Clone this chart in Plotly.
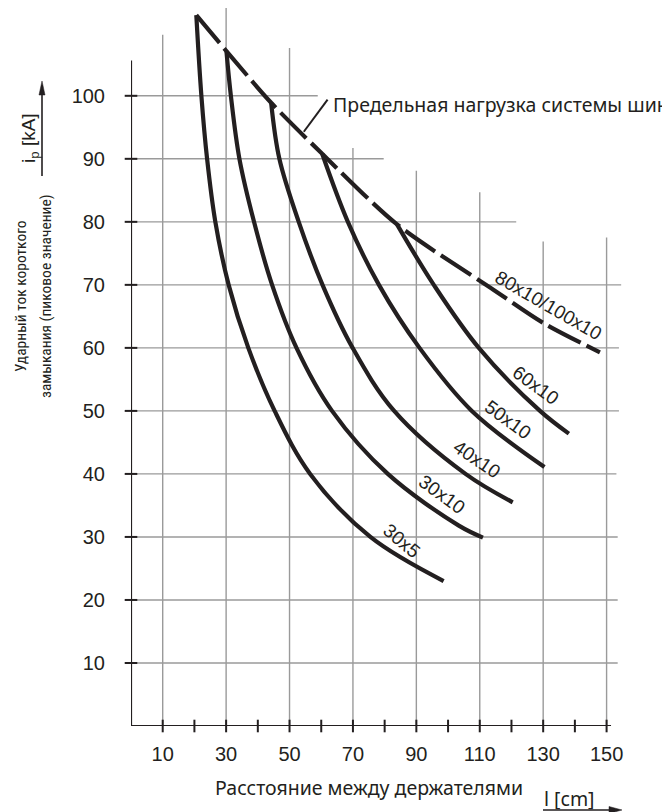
import plotly.graph_objects as go

# ---------------- data ----------------
l_30x5 = [20.6, 22.2, 24.0, 26.6, 30.8, 37.0, 45.3, 56.5, 75.5, 98.6]
i_30x5 = [112.8, 100, 90, 80, 70, 60, 50, 40, 30, 23.0]

l_30x10 = [30.1, 31.5, 34.2, 38.8, 44.5, 52.2, 63.4, 81.0, 103.4, 111.0]
i_30x10 = [107.1, 100, 90, 80, 70, 60, 50, 40, 31.8, 29.9]

l_40x10 = [44.2, 46.8, 52.9, 60.4, 69.9, 83.0, 105.5, 120.4]
i_40x10 = [98.9, 90, 80, 70, 60, 50, 40, 35.5]

l_50x10 = [60.3, 68.4, 78.2, 91.0, 107.5, 130.4]
i_50x10 = [90.8, 80, 70, 60, 50, 41.1]

l_60x10 = [83.9, 95.5, 109.7, 129.0, 138.1]
i_60x10 = [79.6, 70, 60, 50, 46.4]

l_limit = [20.6, 30.1, 44.2, 60.3, 83.9, 114.4, 130.2, 147.9]
i_limit = [112.8, 107.1, 98.9, 90.8, 79.6, 69.2, 63.9, 59.3]

x_ticks = [10, 30, 50, 70, 90, 110, 130, 150]
x_minor = [20, 40, 60, 80, 100, 120, 140]
y_ticks = [10, 20, 30, 40, 50, 60, 70, 80, 90, 100]

curve_labels = ["30x5", "30x10", "40x10", "50x10", "60x10", "80x10/100x10"]
label_l = [85.2, 98.1, 109.2, 118.8, 127.8, 131.8]
label_i = [29.4, 36.7, 42.3, 48.6, 54.1, 66.8]
label_ang = [40, 36, 34, 36, 36, 30]

limit_text = "Предельная нагрузка системы шин"
x_title = "Расстояние между держателями"
x_unit = "l [cm]"
y_title_1 = "Ударный ток короткого"
y_title_2 = "замыкания (пиковое значение)"
y_unit = "i<sub>p</sub> [kA]"

# ---------------- styling ----------------
INK = "#231f20"
GRID = "#9a9a9a"
OFF = 8                      # page body margin in the browser
W, H = 670 - OFF, 812 - OFF
AX_X, AX_Y = 131, 726        # reference pixel position of the origin
ML = AX_X - OFF
PH = AX_Y - OFF
MB = H - PH
PW = W - ML
XR = [0, 170]
sx = PW / (XR[1] - XR[0])
sy = 6.302
YR = [0, PH / sy]


def pxp(px):   # reference pixel x -> paper x
    return (px - AX_X) / PW


def pyp(py):   # reference pixel y -> paper y
    return (AX_Y - py) / PH


def tri(p1, p2, p3):
    pts = [p1, p2, p3]
    d = "M " + " L ".join(f"{pxp(a):.5f},{pyp(b):.5f}" for a, b in pts) + " Z"
    return dict(type="path", xref="paper", yref="paper", path=d,
                fillcolor=INK, line=dict(color=INK, width=0.5))


def pline(x0, y0, x1, y1, w=1.6):
    return dict(type="line", xref="paper", yref="paper", x0=pxp(x0), y0=pyp(y0),
                x1=pxp(x1), y1=pyp(y1), line=dict(color=INK, width=w))


ARIAL = "Liberation Sans, Arial, sans-serif"
HUMAN = "Noto Sans, Open Sans, sans-serif"
NARROW = "Liberation Sans Narrow, Arial Narrow, Roboto Condensed, Liberation Sans, sans-serif"

fig = go.Figure()

# grid (staircase extents as in the reference)
v_top = [109.7, 115.2, 107.6, 91.7, 88.1, 84.7, 76.9, 77.5]
h_end = [153.5, 153.5, 153.5, 153.1, 153.9, 153.9, 154.6, 121.5, 79.7, 58.9]
shapes = []
for xv, top in zip(x_ticks, v_top):
    shapes.append(dict(type="line", xref="x", yref="y", x0=xv, x1=xv, y0=0, y1=top,
                       line=dict(color=GRID, width=1.4), layer="below"))
for yv, end in zip(y_ticks, h_end):
    shapes.append(dict(type="line", xref="x", yref="y", x0=0, x1=end, y0=yv, y1=yv,
                       line=dict(color=GRID, width=1.4), layer="below"))
# axes lines
shapes.append(dict(type="line", xref="x", yref="y", x0=0, x1=151.4, y0=0, y1=0,
                   line=dict(color=INK, width=2.2)))
shapes.append(dict(type="line", xref="x", yref="y", x0=0, x1=0, y0=0, y1=105.6,
                   line=dict(color=INK, width=2.2)))
# leader line for the limit label
shapes.append(dict(type="line", xref="x", yref="y", x0=54.5, x1=62.0, y0=94.3, y1=99.4,
                   line=dict(color=INK, width=2)))
# unit arrows
shapes.append(pline(42, 176, 42, 92))
shapes.append(tri((42, 81), (39, 95), (45, 95)))
shapes.append(pline(543, 810, 611, 810))
shapes.append(tri((622, 810), (609, 806.5), (609, 813.5)))

# curves
for lx, iy in [(l_30x5, i_30x5), (l_30x10, i_30x10), (l_40x10, i_40x10),
               (l_50x10, i_50x10), (l_60x10, i_60x10)]:
    fig.add_trace(go.Scatter(x=lx, y=iy, mode="lines", cliponaxis=False,
                             line=dict(color=INK, width=4.2, shape="spline", smoothing=1.0),
                             hoverinfo="skip", showlegend=False))
fig.add_trace(go.Scatter(x=l_limit, y=i_limit, mode="lines", cliponaxis=False,
                         line=dict(color=INK, width=4.2, shape="spline", smoothing=0.8,
                                   dash="36px,7px"),
                         hoverinfo="skip", showlegend=False))

# crossing ticks
fig.add_trace(go.Scatter(x=x_ticks + x_minor, y=[0] * (len(x_ticks) + len(x_minor)),
                         mode="markers", cliponaxis=False, hoverinfo="skip", showlegend=False,
                         marker=dict(symbol="line-ns", size=9, line=dict(color=INK, width=2))))
fig.add_trace(go.Scatter(x=[0] * len(y_ticks), y=y_ticks,
                         mode="markers", cliponaxis=False, hoverinfo="skip", showlegend=False,
                         marker=dict(symbol="line-ew", size=9, line=dict(color=INK, width=2))))

ann = []
for t, lx, iy, a in zip(curve_labels, label_l, label_i, label_ang):
    ann.append(dict(x=lx, y=iy, xref="x", yref="y", text=t, showarrow=False, textangle=a,
                    font=dict(family=ARIAL, size=19, color=INK)))


def ptext(text, px, py, font, size, angle=0, xanchor="center"):
    return dict(x=pxp(px), y=pyp(py), xref="paper", yref="paper", text=text,
                showarrow=False, xanchor=xanchor, yanchor="middle", textangle=angle,
                font=dict(family=font, size=size, color=INK))


ann.append(ptext(limit_text, 331, 105, HUMAN, 19.5, xanchor="left"))
ann.append(ptext(x_title, 369, 787, HUMAN, 19.5))
ann.append(ptext(x_unit, 569, 798, HUMAN, 19.5))
ann.append(ptext(y_unit, 30, 138, ARIAL, 19, angle=-90))
ann.append(ptext(y_title_1, 21, 296, NARROW, 15.5, angle=-90))
ann.append(ptext(y_title_2, 46, 296, NARROW, 15.5, angle=-90))

fig.update_layout(
    width=W, height=H, autosize=False,
    margin=dict(l=ML, r=0, t=0, b=MB, pad=0),
    paper_bgcolor="white", plot_bgcolor="white",
    shapes=shapes, annotations=ann, showlegend=False,
    xaxis=dict(range=XR, showgrid=False, zeroline=False, showline=False, ticks="",
               tickvals=x_ticks, ticktext=[str(v) for v in x_ticks], ticklabelstandoff=14,
               tickfont=dict(family=ARIAL, size=20, color=INK), fixedrange=True),
    yaxis=dict(range=YR, showgrid=False, zeroline=False, showline=False, ticks="",
               tickvals=y_ticks, ticktext=[str(v) for v in y_ticks], ticklabelstandoff=25,
               tickfont=dict(family=ARIAL, size=20, color=INK), fixedrange=True),
)

fig.write_html("out.html")
